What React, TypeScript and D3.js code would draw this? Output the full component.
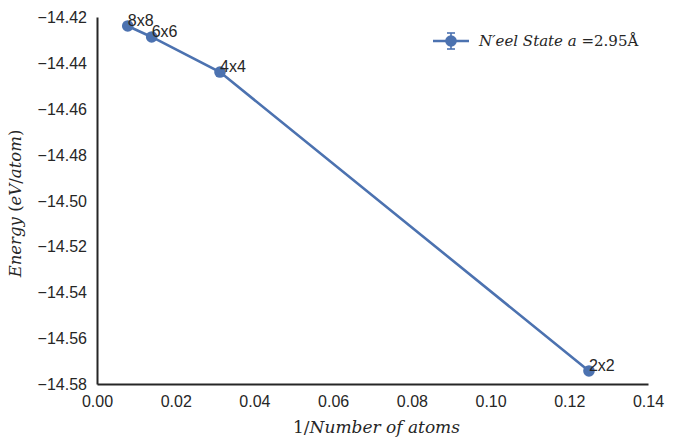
import { useRef, useEffect } from "react";
import * as d3 from "d3";

// 1/N values and energies per atom
const labels = ["8x8", "6x6", "4x4", "2x2"];
const invAtoms = [1 / 128, 1 / 72, 1 / 32, 1 / 8];
const energies = [-14.4239, -14.4287, -14.444, -14.5743];
const xTicks = [0, 0.02, 0.04, 0.06, 0.08, 0.1, 0.12, 0.14];
const yTicks = [-14.42, -14.44, -14.46, -14.48, -14.5, -14.52, -14.54, -14.56, -14.58];

const BLUE = "#4c72b0";
const TEXT = "#262626";
const SERIF = "DejaVu Serif, serif";

export default function App() {
  const ref = useRef<SVGSVGElement | null>(null);

  useEffect(() => {
    if (!ref.current) return;
    const margin = { top: 17, right: 32, bottom: 53, left: 97 };
    const W = 680;
    const H = 437;
    const width = W - margin.left - margin.right;
    const height = H - margin.top - margin.bottom;

    const root = d3.select(ref.current);
    root.selectAll("*").remove();
    root.attr("width", W).attr("height", H);

    const svg = root.append("g").attr("transform", `translate(${margin.left},${margin.top})`);

    const x = d3.scaleLinear().domain([0, 0.14]).range([0, width]);
    const y = d3.scaleLinear().domain([-14.58, -14.42]).range([height, 0]);

    const fmtY = (d: number) => d.toFixed(2).replace("-", "\u2212");

    const xAxis = svg
      .append("g")
      .attr("transform", `translate(0,${height})`)
      .call(d3.axisBottom(x).tickValues(xTicks).tickSize(0).tickPadding(12).tickFormat((d) => (d as number).toFixed(2)));
    const yAxis = svg
      .append("g")
      .call(d3.axisLeft(y).tickValues(yTicks).tickSize(0).tickPadding(10).tickFormat((d) => fmtY(d as number)));

    [xAxis, yAxis].forEach((a) => {
      a.select(".domain").attr("stroke", TEXT).attr("stroke-width", 2);
      a.selectAll("text")
        .attr("fill", TEXT)
        .style("font-family", "Liberation Sans, Arial, sans-serif")
        .style("font-size", "16px");
    });
    yAxis.selectAll("text").attr("dy", "0.35em");

    const pts: [number, number][] = invAtoms.map((v, i) => [v, energies[i]]);
    const line = d3
      .line<[number, number]>()
      .x((d) => x(d[0]))
      .y((d) => y(d[1]));

    svg
      .append("path")
      .attr("fill", "none")
      .attr("stroke", BLUE)
      .attr("stroke-width", 2.6)
      .attr("d", line(pts) || "");

    svg
      .selectAll("circle.pt")
      .data(pts)
      .enter()
      .append("circle")
      .attr("class", "pt")
      .attr("cx", (d) => x(d[0]))
      .attr("cy", (d) => y(d[1]))
      .attr("r", 5.8)
      .attr("fill", BLUE);

    svg
      .selectAll("text.lbl")
      .data(pts)
      .enter()
      .append("text")
      .attr("class", "lbl")
      .attr("x", (d) => x(d[0]))
      .attr("y", (d) => y(d[1]))
      .attr("fill", TEXT)
      .style("font-family", "Liberation Sans, Arial, sans-serif")
      .style("font-size", "16px")
      .text((_, i) => labels[i]);

    // legend
    const lg = svg.append("g").attr("transform", `translate(${433 - margin.left},${41 - margin.top})`);
    lg.append("line").attr("x1", 0).attr("x2", 36).attr("y1", 0).attr("y2", 0).attr("stroke", BLUE).attr("stroke-width", 2.6);
    lg.append("line").attr("x1", 18).attr("x2", 18).attr("y1", -8).attr("y2", 8).attr("stroke", BLUE).attr("stroke-width", 1.6);
    lg.append("line").attr("x1", 14).attr("x2", 22).attr("y1", -8).attr("y2", -8).attr("stroke", BLUE).attr("stroke-width", 1.6);
    lg.append("line").attr("x1", 14).attr("x2", 22).attr("y1", 8).attr("y2", 8).attr("stroke", BLUE).attr("stroke-width", 1.6);
    lg.append("circle").attr("cx", 18).attr("cy", 0).attr("r", 5.8).attr("fill", BLUE);
    const lt = lg
      .append("text")
      .attr("x", 46)
      .attr("y", 5)
      .attr("fill", TEXT)
      .style("font-family", SERIF)
      .style("font-size", "15px");
    lt.append("tspan").style("font-style", "italic").text("N\u2032eel State a");
    lt.append("tspan").text(" =2.95\u00c5");

    // axis labels
    svg
      .append("text")
      .attr("x", width / 2 + 4)
      .attr("y", height + 49)
      .attr("text-anchor", "middle")
      .attr("fill", TEXT)
      .style("font-family", SERIF)
      .style("font-size", "17px")
      .html('1/<tspan font-style="italic">Number of atoms</tspan>');

    svg
      .append("text")
      .attr("transform", `translate(${-76},${height / 2 + 3}) rotate(-90)`)
      .attr("text-anchor", "middle")
      .attr("fill", TEXT)
      .style("font-family", SERIF)
      .style("font-size", "16.5px")
      .html('<tspan font-style="italic">Energy</tspan> (<tspan font-style="italic">eV</tspan>/<tspan font-style="italic">atom</tspan>)');
  }, []);

  return <svg ref={ref} style={{ position: "absolute", left: 0, top: 0 }} />;
}
